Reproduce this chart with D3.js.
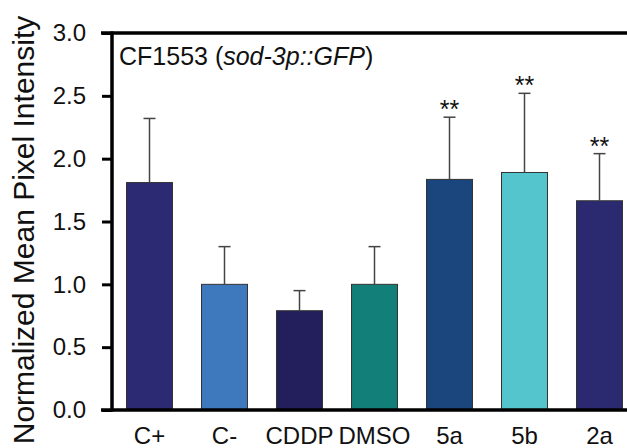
<!DOCTYPE html>
<html><head><meta charset="utf-8">
<script src="https://cdn.jsdelivr.net/npm/d3@7"></script>
<style>body{margin:0;background:#fff}svg{display:block}text{font-family:Arial,"Liberation Sans",sans-serif}</style>
</head><body><svg id="c" width="627" height="448"></svg>
<script>
const categories = ["C+","C-","CDDP","DMSO","5a","5b","2a"];
const means = [1.81,1.00,0.79,1.00,1.835,1.89,1.665];
const errors = [0.51,0.30,0.16,0.30,0.495,0.63,0.375];
const significance = ["","","","","**","**","**"];
const colors = ["#2b2a73","#3e78bd","#221f5c","#137f79","#1a457d","#54c5cc","#2b2a71"];
const yTicks = [0,0.5,1.0,1.5,2.0,2.5,3.0];

const svg = d3.select("#c");
const x0 = 112, x1 = 637, yTop = 33, yBot = 410;
const x = d3.scaleBand().domain(categories).range([x0,x1]).paddingInner(0.387).paddingOuter(0.1935);
const y = d3.scaleLinear().domain([0,3]).range([yBot,yTop]);
const FF = "Arial, 'Liberation Sans', sans-serif";

// bars
svg.append("g").selectAll("rect").data(categories).join("rect")
  .attr("x",d=>x(d)).attr("width",x.bandwidth())
  .attr("y",(d,i)=>y(means[i])).attr("height",(d,i)=>y(0)-y(means[i]))
  .attr("fill",(d,i)=>colors[i]).attr("stroke","#333").attr("stroke-width",1);

// error bars (upper only)
const eg = svg.append("g").attr("stroke","#444").attr("stroke-width",1.5);
categories.forEach((c,i)=>{
  const cx = x(c)+x.bandwidth()/2;
  eg.append("line").attr("x1",cx).attr("x2",cx).attr("y1",y(means[i])).attr("y2",y(means[i]+errors[i]));
  eg.append("line").attr("x1",cx-6).attr("x2",cx+6).attr("y1",y(means[i]+errors[i])).attr("y2",y(means[i]+errors[i]));
});

// significance
svg.append("g").selectAll("text").data(categories).join("text")
  .attr("x",d=>x(d)+x.bandwidth()/2).attr("y",(d,i)=>y(means[i]+errors[i])+1)
  .attr("text-anchor","middle").attr("font-size",25).attr("fill","#111")
  .text((d,i)=>significance[i]);

// y axis
const ya = svg.append("g").attr("transform",`translate(${x0},0)`)
  .call(d3.axisLeft(y).tickValues(yTicks).tickFormat(d3.format(".1f")).tickSize(10).tickPadding(16));
ya.select(".domain").remove();
ya.selectAll(".tick line").attr("stroke","#000").attr("stroke-width",3);
ya.selectAll(".tick text").attr("font-size",24).attr("fill","#111").attr("font-family",FF);
svg.append("line").attr("x1",x0).attr("x2",x0).attr("y1",yTop-1.5).attr("y2",yBot+1.5).attr("stroke","#000").attr("stroke-width",3.5);

// x axis
const xa = svg.append("g").attr("transform",`translate(0,${yBot})`)
  .call(d3.axisBottom(x).tickSize(0));
xa.select(".domain").remove();
xa.selectAll(".tick text").attr("y",34).attr("dy",0).attr("font-size",24).attr("fill","#111").attr("font-family",FF);
svg.append("line").attr("x1",101).attr("x2",627).attr("y1",yBot).attr("y2",yBot).attr("stroke","#000").attr("stroke-width",3.5);
svg.append("line").attr("x1",101).attr("x2",627).attr("y1",yTop).attr("y2",yTop).attr("stroke","#000").attr("stroke-width",3.5);

// title
const t = svg.append("text").attr("x",119).attr("y",65).attr("font-size",25).attr("fill","#111");
t.append("tspan").text("CF1553 (");
t.append("tspan").attr("font-style","italic").text("sod-3p::GFP");
t.append("tspan").text(")");

// y label
svg.append("text").attr("transform","translate(34,230) rotate(-90)").attr("text-anchor","middle")
  .attr("font-size",30).attr("fill","#111").text("Normalized Mean Pixel Intensity");
</script></body></html>
